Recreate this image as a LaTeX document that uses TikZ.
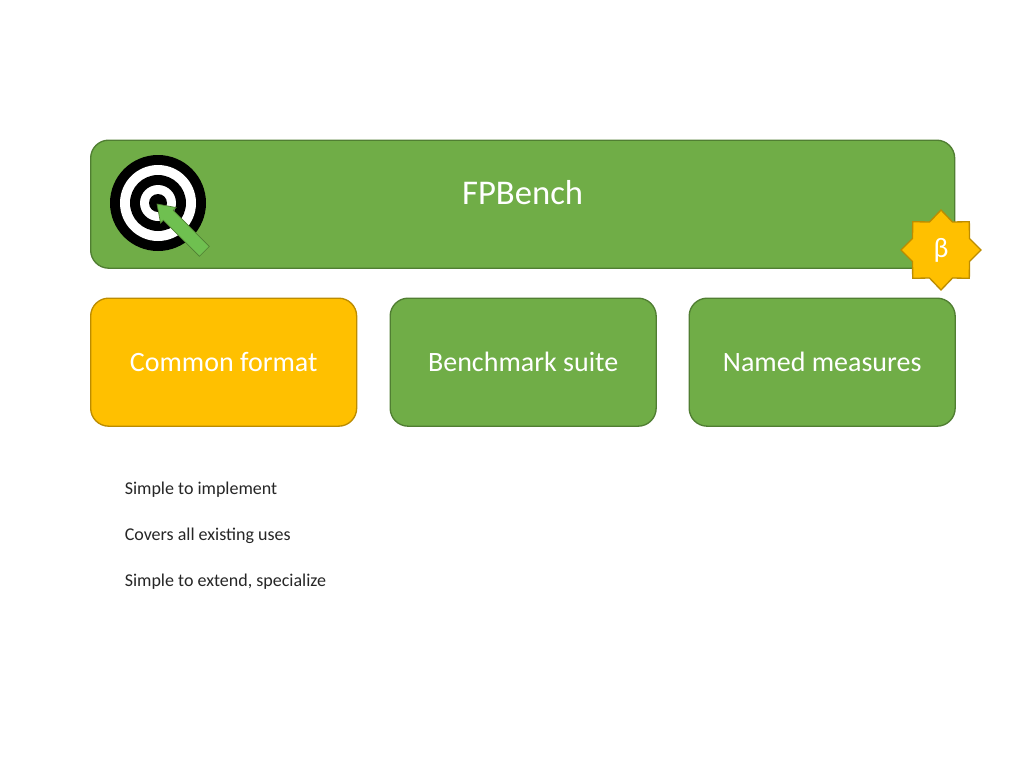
\documentclass[tikz,border=0pt]{standalone}
\usepackage{fontspec}
\setmainfont{Carlito}
\definecolor{grn}{HTML}{70AD47}
\definecolor{grnd}{HTML}{507E32}
\definecolor{amb}{HTML}{FFC000}
\definecolor{ambd}{HTML}{BC8C00}
\tikzset{
  x=0.75pt,y=-0.75pt,
  greenbox/.style={draw=grnd,fill=grn,line width=1pt,rounded corners=13.5pt,inner sep=0pt,anchor=north west,text=white,font=\fontsize{21}{24}\selectfont},
  amberbox/.style={greenbox,draw=ambd,fill=amb},
  note/.style={anchor=west,inner sep=0pt,font=\fontsize{13.5}{16}\selectfont,text=black!85}
}
\begin{document}
\begin{tikzpicture}
\useasboundingbox (0,0) rectangle (1024,768);
\fill[white] (0,0) rectangle (1024,768);
\node[greenbox,minimum width=648pt,minimum height=96pt,font=\fontsize{26}{30}\selectfont] (main) at (90,139.5) {\raisebox{18pt}{FPBench}};
\node[amberbox,minimum width=199.5pt,minimum height=96pt] (fmt) at (90,297.5) {Common format};
\node[greenbox,minimum width=199.5pt,minimum height=96pt] (suite) at (389.5,297.5) {Benchmark suite};
\node[greenbox,minimum width=199.5pt,minimum height=96pt] (meas) at (688.5,297.5) {Named measures};
\node[note] (n1) at (124.5,490) {Simple to implement};
\node[note] (n2) at (124.5,536) {Covers all existing uses};
\node[note] (n3) at (124.5,582) {Simple to extend, specialize};
% target
\fill[black] (158,203) circle[radius=48];
\fill[white] (158,203) circle[radius=38];
\fill[black] (158,203) circle[radius=28];
\fill[white] (158,203) circle[radius=18];
\fill[black] (158,203) circle[radius=9];
% arrow
\begin{scope}[shift={(157,204)},rotate=-45]
\draw[draw=grnd,fill=grn!85!green!90!white,line width=0.5pt,line join=miter]
 (0,0) -- (16,-11) -- (16,-7) -- (67,-7) -- (67,7) -- (16,7) -- (16,11) -- cycle;
\end{scope}
% star
\coordinate (c) at (941,250);
\draw[draw=ambd,fill=amb,line width=1pt,line join=miter]
 (941,210) -- (952.5,222) -- (969.3,221.7) -- (969.5,238.5) -- (981,250) -- (969.5,261.5) -- (969.3,278.3) -- (952.5,278) -- (941,290) -- (929.5,278) -- (912.7,278.3) -- (912.5,261.5) -- (901,250) -- (912.5,238.5) -- (912.7,221.7) -- (929.5,222) -- cycle;
\node[text=white,inner sep=0pt,font=\fontsize{21}{24}\selectfont] (beta) at (c) {β};
\end{tikzpicture}
\end{document}
